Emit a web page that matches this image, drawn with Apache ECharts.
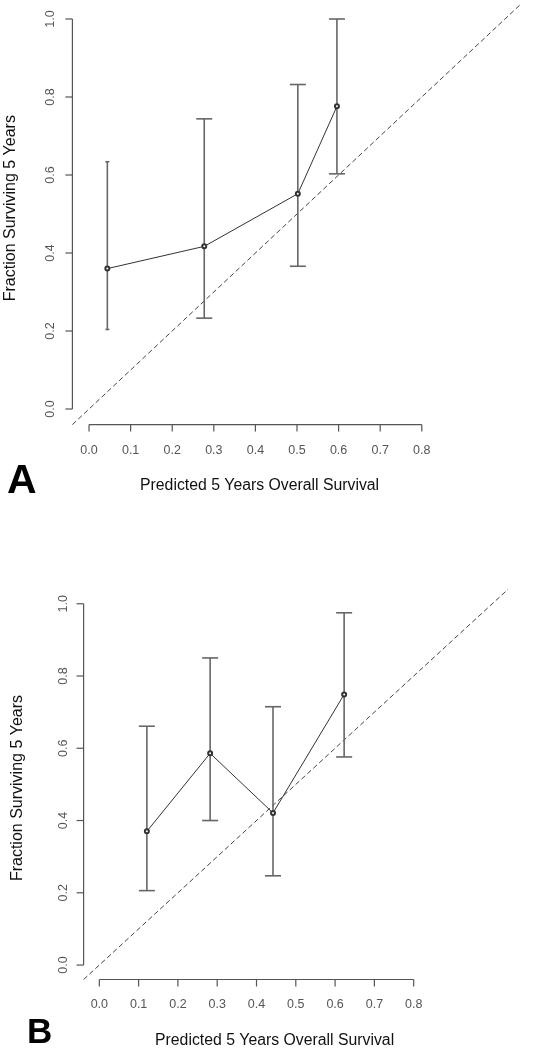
<!DOCTYPE html>
<html>
<head>
<meta charset="utf-8">
<script src="https://cdn.jsdelivr.net/npm/echarts@6/dist/echarts.min.js"></script>
<style>
html,body{margin:0;padding:0;background:#fff;}
#chart{width:538px;height:1050px;}
</style>
</head>
<body>
<div id="chart"></div>
<script>
// ---- data ----
var xTicks = [0.0, 0.1, 0.2, 0.3, 0.4, 0.5, 0.6, 0.7, 0.8];
var yTicks = [0.0, 0.2, 0.4, 0.6, 0.8, 1.0];
var xTitle = 'Predicted 5 Years Overall Survival';
var yTitle = 'Fraction Surviving 5 Years';

var aPredicted = [0.044, 0.277, 0.502, 0.596];
var aObserved  = [0.360, 0.417, 0.552, 0.776];
var aLower     = [0.204, 0.233, 0.366, 0.603];
var aUpper     = [0.634, 0.744, 0.832, 1.000];

var bPredicted = [0.121, 0.282, 0.442, 0.623];
var bObserved  = [0.370, 0.586, 0.421, 0.749];
var bLower     = [0.206, 0.400, 0.247, 0.576];
var bUpper     = [0.661, 0.850, 0.715, 0.975];

var identityLine = [-0.04, 1.04];

// ---- layout / style ----
var FONT = '"Liberation Sans", Arial, sans-serif';
var AXIS_COLOR = '#555';
var panels = [
  { letter: 'A', px: aPredicted, py: aObserved, lo: aLower, hi: aUpper,
    caps: [2, 8, 8, 8],
    grid: { left: 72.4, top: 3.4, width: 449.2, height: 421.2 },
    xTitleX: 0.41, xTitleDy: 61, yTitleY: 0.515, yTitleDx: -62,
    tickLabelDx: -22, tickLabelDy: 26,
    letterPos: [7, 496], letterSize: 41 },
  { letter: 'B', px: bPredicted, py: bObserved, lo: bLower, hi: bUpper,
    caps: [8, 8, 8, 8],
    grid: { left: 83.6, top: 589.3, width: 424.4, height: 390.2 },
    xTitleX: 0.446, xTitleDy: 61, yTitleY: 0.49, yTitleDx: -66,
    tickLabelDx: -20, tickLabelDy: 25,
    letterPos: [27, 1046], letterSize: 35 }
];

var grids = [], xAxes = [], yAxes = [], series = [], graphics = [];

panels.forEach(function (p, i) {
  grids.push(p.grid);
  xAxes.push({ gridIndex: i, type: 'value', min: -0.04, max: 1.04, show: false });
  yAxes.push({ gridIndex: i, type: 'value', min: -0.04, max: 1.04, show: false });

  // identity (y = x) dashed reference line
  series.push({
    type: 'line', xAxisIndex: i, yAxisIndex: i, clip: true, silent: true,
    data: identityLine.map(function (v) { return [v, v]; }),
    symbol: 'none',
    lineStyle: { color: '#444', width: 1, type: [5, 3] },
    z: 2
  });

  // error bars
  series.push({
    type: 'custom', xAxisIndex: i, yAxisIndex: i, silent: true,
    data: p.px.map(function (x, k) { return [x, p.lo[k], p.hi[k], k]; }),
    renderItem: function (params, api) {
      var x = api.value(0), lo = api.value(1), hi = api.value(2), k = api.value(3);
      var c = p.caps[k];
      var a = api.coord([x, lo]), b = api.coord([x, hi]);
      var st = { stroke: '#666', lineWidth: 1.6 };
      return { type: 'group', children: [
        { type: 'line', shape: { x1: a[0], y1: a[1], x2: b[0], y2: b[1] }, style: st },
        { type: 'line', shape: { x1: a[0] - c, y1: a[1], x2: a[0] + c, y2: a[1] }, style: st },
        { type: 'line', shape: { x1: b[0] - c, y1: b[1], x2: b[0] + c, y2: b[1] }, style: st }
      ]};
    },
    z: 3
  });

  // observed vs predicted line with points
  series.push({
    type: 'line', xAxisIndex: i, yAxisIndex: i, silent: true,
    data: p.px.map(function (x, k) { return [x, p.py[k]]; }),
    symbol: 'emptyCircle', symbolSize: 4, showAllSymbol: true,
    itemStyle: { color: '#333', borderWidth: 1.2 },
    lineStyle: { color: '#333', width: 1 },
    z: 4
  });

  // R-style axes, ticks, labels and titles
  series.push({
    type: 'custom', xAxisIndex: i, yAxisIndex: i, silent: true,
    data: [[0, 0]],
    renderItem: function (params, api) {
      var ch = [];
      var st = { stroke: AXIS_COLOR, lineWidth: 1.2 };
      var y0 = api.coord([-0.04, yTicks[0]]), y1 = api.coord([-0.04, yTicks[yTicks.length - 1]]);
      ch.push({ type: 'line', shape: { x1: y0[0], y1: y0[1], x2: y1[0], y2: y1[1] }, style: st });
      yTicks.forEach(function (v) {
        var c = api.coord([-0.04, v]);
        ch.push({ type: 'line', shape: { x1: c[0] - 7, y1: c[1], x2: c[0], y2: c[1] }, style: st });
        ch.push({ type: 'text', x: c[0] + p.tickLabelDx, y: c[1], rotation: Math.PI / 2,
          style: { text: v.toFixed(1), fill: '#555', font: '12.5px ' + FONT, align: 'center', verticalAlign: 'middle' } });
      });
      var x0 = api.coord([xTicks[0], -0.04]), x1 = api.coord([xTicks[xTicks.length - 1], -0.04]);
      ch.push({ type: 'line', shape: { x1: x0[0], y1: x0[1], x2: x1[0], y2: x1[1] }, style: st });
      xTicks.forEach(function (v) {
        var c = api.coord([v, -0.04]);
        ch.push({ type: 'line', shape: { x1: c[0], y1: c[1], x2: c[0], y2: c[1] + 7 }, style: st });
        ch.push({ type: 'text', x: c[0], y: c[1] + p.tickLabelDy,
          style: { text: v.toFixed(1), fill: '#555', font: '12.5px ' + FONT, align: 'center', verticalAlign: 'middle' } });
      });
      var xt = api.coord([p.xTitleX, -0.04]);
      ch.push({ type: 'text', x: xt[0], y: xt[1] + p.xTitleDy,
        style: { text: xTitle, fill: '#111', font: '15.8px ' + FONT, align: 'center', verticalAlign: 'middle' } });
      var yt = api.coord([-0.04, p.yTitleY]);
      ch.push({ type: 'text', x: yt[0] + p.yTitleDx, y: yt[1], rotation: Math.PI / 2,
        style: { text: yTitle, fill: '#111', font: '16px ' + FONT, align: 'center', verticalAlign: 'middle' } });
      return { type: 'group', children: ch };
    },
    z: 5
  });

  graphics.push({
    type: 'text', left: p.letterPos[0], top: p.letterPos[1] - p.letterSize * 0.86,
    style: { text: p.letter, fill: '#000', font: 'bold ' + p.letterSize + 'px ' + FONT }
  });
});

var chart = echarts.init(document.getElementById('chart'), null, { renderer: 'canvas' });
chart.setOption({
  animation: false,
  backgroundColor: '#fff',
  grid: grids,
  xAxis: xAxes,
  yAxis: yAxes,
  series: series,
  graphic: graphics
});
</script>
</body>
</html>
